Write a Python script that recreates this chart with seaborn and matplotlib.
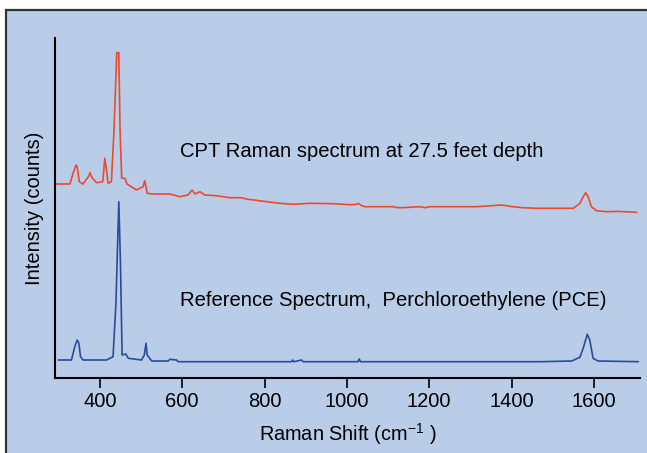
import numpy as np
import pandas as pd
import matplotlib
matplotlib.use("Agg")
import matplotlib.pyplot as plt
import seaborn as sns
from matplotlib.patches import Rectangle

# ---------- DATA ----------
cpt_shift = [295, 327, 335, 342, 345, 350, 359, 372, 376, 382, 392, 407, 412, 416,
             420, 428, 434, 441, 446, 449, 453, 461, 466, 489, 505, 509, 515, 529,
             570, 594, 614, 624, 631, 643, 655, 683, 716, 744, 756, 805, 837, 870,
             910, 966, 1007, 1024, 1027, 1036, 1044, 1112, 1120, 1136, 1177, 1190,
             1202, 1315, 1376, 1403, 1427, 1461, 1550, 1566, 1572, 1580, 1586,
             1594, 1606, 1631, 1660, 1704]
cpt_counts = [194, 194, 204.7, 213, 211, 196.3, 194, 201.3, 205.3, 199.7, 195.3,
              196.3, 219.7, 208, 194.7, 196.3, 244.7, 325.3, 325.3, 248, 199.7,
              199.7, 194, 188, 191.3, 197.3, 184.7, 184, 184, 181.3, 183, 188, 184,
              186.3, 183, 182.3, 180.3, 180.3, 179, 176.3, 174.7, 173.7, 174.7,
              174.3, 173.3, 173.7, 174.7, 172.3, 171.3, 171.3, 170.5, 170.3, 171.3,
              170.3, 171.3, 171.3, 173, 171.3, 170.3, 169.7, 169.7, 174.7, 179.7,
              185.3, 181.3, 171.3, 167.3, 166.3, 166.6, 165.7]

pce_shift = [299, 331, 339, 345, 349, 353, 359, 416, 432, 439, 446, 450, 454, 463,
             469, 501, 508, 512, 515, 526, 566, 570, 586, 590, 866, 868, 871, 890,
             894, 1027, 1030, 1033, 1469, 1546, 1566, 1574, 1584, 1590, 1598, 1610,
             1708]
pce_counts = [18, 18, 31.3, 38, 34.7, 21.3, 18, 18, 21.3, 74.7, 176.3, 115, 23, 24,
              19.7, 18, 23, 34.7, 23, 17, 17, 18.7, 18, 16.3, 16.3, 18, 16.3, 18,
              16.3, 16.3, 19, 16.3, 16.3, 17, 20.7, 29.7, 43.7, 38, 19.7, 17, 16.3]

cpt_label = "CPT Raman spectrum at 27.5 feet depth"
pce_label = "Reference Spectrum,  Perchloroethylene (PCE)"
x_ticks = [400, 600, 800, 1000, 1200, 1400, 1600]

cpt = pd.DataFrame({"shift": cpt_shift, "counts": cpt_counts})
pce = pd.DataFrame({"shift": pce_shift, "counts": pce_counts})

# ---------- STYLE ----------
sns.set_style("white")
plt.rcParams["font.family"] = ["Liberation Sans", "DejaVu Sans"]
plt.rcParams["mathtext.fontset"] = "custom"
plt.rcParams["mathtext.rm"] = "Liberation Sans"
plt.rcParams["mathtext.it"] = "Liberation Sans"
plt.rcParams["text.color"] = "black"
plt.rcParams["axes.labelcolor"] = "black"
plt.rcParams["xtick.color"] = "black"

bg = "#B9CDE8"

fig = plt.figure(figsize=(6.47, 4.53), dpi=100, facecolor="white")
frame = Rectangle((6 / 647, -0.1), 1.2, 1 - 10 / 453 + 0.1,
                  transform=fig.transFigure, facecolor=bg,
                  edgecolor="#333333", linewidth=1.6, zorder=-5)
fig.patches.append(frame)

ax = fig.add_axes([55 / 647, 1 - 378 / 453, 585 / 647, 340 / 453])
ax.set_facecolor("none")
ax.set_zorder(2)

sns.lineplot(data=cpt, x="shift", y="counts", ax=ax, color="#EE4A2C",
             linewidth=1.2, sort=False)
sns.lineplot(data=pce, x="shift", y="counts", ax=ax, color="#2A4B9B",
             linewidth=1.2, sort=False)

ax.set_xlim(291, 1712)
ax.set_ylim(0, 340)

ax.text(594, 227, cpt_label, fontsize=14.6, va="center", ha="left")
ax.text(594, 78, pce_label, fontsize=14.6, va="center", ha="left")

for side in ["top", "right"]:
    ax.spines[side].set_visible(False)
for side in ["left", "bottom"]:
    ax.spines[side].set_color("black")
    ax.spines[side].set_linewidth(1.5)

ax.set_xticks(x_ticks)
ax.set_yticks([])
ax.tick_params(axis="x", direction="out", length=7, width=1.2, color="black",
               labelsize=14.5, pad=3, bottom=True)

ax.set_xlabel("Raman Shift (cm$^{-1}$ )", fontsize=14.3, labelpad=7)
ax.set_ylabel("Intensity (counts)", fontsize=14.5, labelpad=8)

fig.savefig("out.png", dpi=100, facecolor="white")
